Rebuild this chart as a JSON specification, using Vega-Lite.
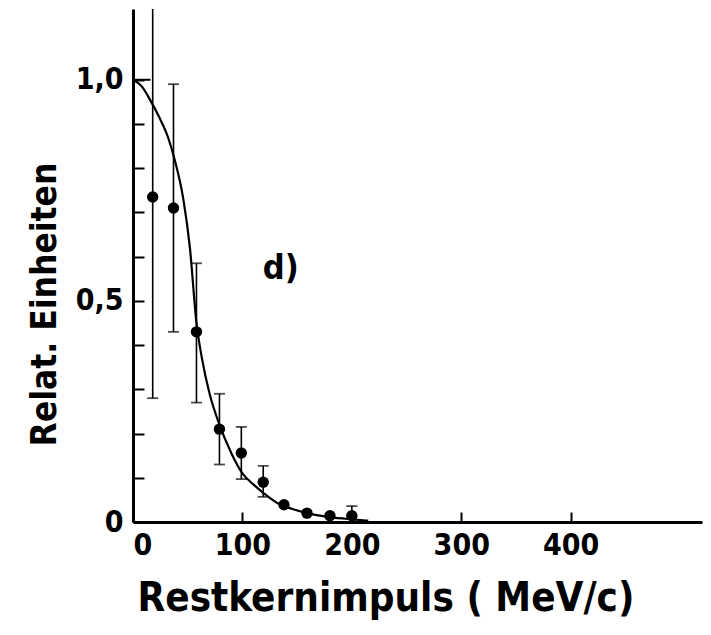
{
  "$schema": "https://vega.github.io/schema/vega-lite/v6.json",
  "width": 569,
  "height": 513,
  "autosize": {"type": "none"},
  "padding": {"left": 133, "top": 9, "right": 9, "bottom": 113},
  "background": "white",
  "config": {
    "view": {"stroke": null},
    "font": "DejaVu Sans Condensed",
    "axis": {
      "grid": false,
      "domainColor": "black",
      "tickColor": "black",
      "labelColor": "black",
      "titleColor": "black",
      "labelFont": "DejaVu Sans Condensed",
      "labelFontWeight": "bold",
      "titleFont": "DejaVu Sans Condensed",
      "titleFontWeight": "bold"
    }
  },
  "datasets": {
    "curve": [
      {"x": 0, "y": 1.0},
      {"x": 8, "y": 0.985},
      {"x": 15.5, "y": 0.955},
      {"x": 24, "y": 0.915},
      {"x": 32, "y": 0.87},
      {"x": 38, "y": 0.82},
      {"x": 46, "y": 0.73},
      {"x": 52, "y": 0.62},
      {"x": 58, "y": 0.45},
      {"x": 63, "y": 0.37},
      {"x": 70, "y": 0.29},
      {"x": 79, "y": 0.22},
      {"x": 90, "y": 0.155},
      {"x": 100, "y": 0.11},
      {"x": 110, "y": 0.085},
      {"x": 119, "y": 0.066},
      {"x": 134, "y": 0.04},
      {"x": 145, "y": 0.03},
      {"x": 159, "y": 0.02},
      {"x": 180, "y": 0.011},
      {"x": 200, "y": 0.006},
      {"x": 215, "y": 0.003}
    ],
    "points": [
      {"x": 18, "y": 0.735, "lo": 0.28, "hi": 1.2},
      {"x": 37, "y": 0.71, "lo": 0.43, "hi": 0.99},
      {"x": 58, "y": 0.43, "lo": 0.27, "hi": 0.585},
      {"x": 79, "y": 0.21, "lo": 0.13, "hi": 0.29},
      {"x": 99, "y": 0.156, "lo": 0.097, "hi": 0.215},
      {"x": 119, "y": 0.09, "lo": 0.057, "hi": 0.127},
      {"x": 138, "y": 0.039, "lo": 0.039, "hi": 0.039},
      {"x": 159, "y": 0.02, "lo": 0.02, "hi": 0.02},
      {"x": 180, "y": 0.014, "lo": 0.014, "hi": 0.014},
      {"x": 200, "y": 0.014, "lo": 0.014, "hi": 0.036}
    ],
    "topline": [{"x": 0, "x2": 16, "y": 1.0}],
    "label": [{"x": 135, "y": 0.55, "text": "d)"}]
  },
  "layer": [
    {
      "data": {"name": "curve"},
      "mark": {"type": "line", "color": "black", "strokeWidth": 2.2, "interpolate": "monotone"},
      "encoding": {
        "x": {
          "field": "x", "type": "quantitative",
          "scale": {"domain": [0, 520], "nice": false},
          "axis": {
            "values": [0, 100, 200, 300, 400],
            "tickSize": -10,
            "tickWidth": 2,
            "domainWidth": 3,
            "labelFontSize": 30,
            "labelPadding": 18,
            "labelBaseline": "top",
            "title": "Restkernimpuls ( MeV/c)",
            "titleFontSize": 40,
            "titleX": 4,
            "titleY": 88,
            "titleAlign": "left",
            "titleAnchor": "start",
            "titleBaseline": "alphabetic"
          }
        },
        "y": {
          "field": "y", "type": "quantitative",
          "scale": {"domain": [0, 1.16], "nice": false},
          "axis": {
            "values": [0, 0.1, 0.2, 0.3, 0.4, 0.5, 0.6, 0.7, 0.8, 0.9, 1.0],
            "labelExpr": "datum.value == 1 ? '1,0' : datum.value == 0.5 ? '0,5' : datum.value == 0 ? '0' : ''",
            "tickSize": -11,
            "tickWidth": 2,
            "domainWidth": 3,
            "labelFontSize": 30,
            "labelPadding": 21,
            "title": "Relat. Einheiten",
            "titleFontSize": 35,
            "titleX": -89,
            "titleY": 295,
            "titleAngle": -90,
            "titleAlign": "center",
            "titleBaseline": "middle"
          }
        }
      }
    },
    {
      "data": {"name": "topline"},
      "mark": {"type": "rule", "color": "black", "strokeWidth": 2},
      "encoding": {
        "x": {"field": "x", "type": "quantitative"},
        "x2": {"field": "x2"},
        "y": {"field": "y", "type": "quantitative"}
      }
    },
    {
      "data": {"name": "points"},
      "mark": {"type": "rule", "color": "black", "strokeWidth": 1.6, "clip": true},
      "encoding": {
        "x": {"field": "x", "type": "quantitative"},
        "y": {"field": "lo", "type": "quantitative"},
        "y2": {"field": "hi"}
      }
    },
    {
      "data": {"name": "points"},
      "transform": [
        {"filter": "datum.hi > datum.lo"},
        {"fold": ["lo", "hi"], "as": ["end", "v"]},
        {"filter": "datum.v < 1.16"}
      ],
      "mark": {"type": "tick", "orient": "horizontal", "color": "black", "size": 11, "thickness": 1.8},
      "encoding": {
        "x": {"field": "x", "type": "quantitative"},
        "y": {"field": "v", "type": "quantitative"}
      }
    },
    {
      "data": {"name": "points"},
      "mark": {"type": "circle", "color": "black", "opacity": 1, "size": 130},
      "encoding": {
        "x": {"field": "x", "type": "quantitative"},
        "y": {"field": "y", "type": "quantitative"}
      }
    },
    {
      "data": {"name": "label"},
      "mark": {"type": "text", "font": "DejaVu Sans Condensed", "fontWeight": "bold", "fontSize": 34, "align": "center", "baseline": "alphabetic", "color": "black"},
      "encoding": {
        "x": {"field": "x", "type": "quantitative"},
        "y": {"field": "y", "type": "quantitative"},
        "text": {"field": "text"}
      }
    }
  ]
}
